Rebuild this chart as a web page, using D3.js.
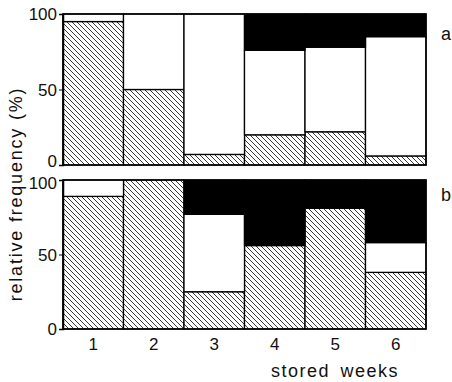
<!DOCTYPE html>
<html><head><meta charset="utf-8">
<script src="https://cdn.jsdelivr.net/npm/d3@7"></script>
<style>body{margin:0;background:#fff}svg{display:block}text{font-family:"Liberation Sans",sans-serif;fill:#111}</style>
</head><body>
<script>
const weeks = ["1","2","3","4","5","6"];
const yTicks = [0, 50, 100];
const panelLabels = ["a","b"];
const aHatched = [95, 50, 7, 20, 22, 6];
const aWhite   = [5, 50, 93, 56, 56, 79];
const aBlack   = [0, 0, 0, 24, 22, 15];
const bHatched = [89, 100, 25, 56, 81, 38];
const bWhite   = [11, 0, 52, 0, 0, 20];
const bBlack   = [0, 0, 23, 44, 19, 42];

const W = 452, H = 382;
const svg = d3.select("body").append("svg").attr("width", W).attr("height", H);
const defs = svg.append("defs");
const pat = defs.append("pattern").attr("id","hatch").attr("patternUnits","userSpaceOnUse")
  .attr("width",5).attr("height",5);
pat.append("rect").attr("width",5).attr("height",5).attr("fill","#fff");
pat.append("path").attr("d","M-1,-1 L6,6 M-1,4 L1,6 M4,-1 L6,1").attr("stroke","#222").attr("stroke-width",0.9);

const x = d3.scaleBand().domain(weeks).range([63, 426]).padding(0);
const panels = [
  {label: panelLabels[0], h: aHatched, w: aWhite, b: aBlack, y: d3.scaleLinear().domain([0,100]).range([165,14]), ly: 40, shift: {0: -4, 50: 0, 100: 0}},
  {label: panelLabels[1], h: bHatched, w: bWhite, b: bBlack, y: d3.scaleLinear().domain([0,100]).range([329,180]), ly: 201, shift: {0: 0, 50: 0, 100: 3}}
];

panels.forEach(p => {
  const g = svg.append("g");
  const stackData = weeks.map((wk,i) => ({week: wk, hatched: p.h[i], white: p.w[i], black: p.b[i]}));
  const series = d3.stack().keys(["hatched","white","black"])(stackData);
  const fills = {hatched: "url(#hatch)", white: "#fff", black: "#000"};
  series.forEach(s => {
    g.selectAll(null).data(s.filter(d => d[1] - d[0] > 0)).join("rect")
      .attr("x", d => x(d.data.week))
      .attr("width", x.bandwidth())
      .attr("y", d => p.y(d[1]))
      .attr("height", d => p.y(d[0]) - p.y(d[1]))
      .attr("fill", fills[s.key])
      .attr("stroke", "#000").attr("stroke-width", 1.3);
  });
  g.append("rect").attr("x", x.range()[0]).attr("y", p.y(100))
    .attr("width", x.range()[1]-x.range()[0]).attr("height", p.y(0)-p.y(100))
    .attr("fill","none").attr("stroke","#000").attr("stroke-width",1.5);
  const ax = d3.axisLeft(p.y).tickValues(yTicks).tickSize(4).tickPadding(2);
  const ag = g.append("g").attr("transform", `translate(${x.range()[0]},0)`).call(ax);
  ag.select(".domain").attr("stroke","#000").attr("stroke-width",1.5);
  ag.selectAll("text").attr("font-size",17).attr("dy","0.35em")
    .attr("y", d => p.shift[d])
    .style("font-family","Liberation Sans, sans-serif").attr("fill","#111");
  g.append("text").attr("x", 441).attr("y", p.ly).attr("font-size",18).text(p.label);
});

const xa = d3.axisBottom(x).tickSize(0).tickPadding(9);
const xg = svg.append("g").attr("transform","translate(0,329)").call(xa);
xg.select(".domain").remove();
xg.selectAll("text").attr("font-size",17).style("font-family","Liberation Sans, sans-serif").attr("fill","#111");

svg.append("text").attr("x", 335).attr("y", 377).attr("text-anchor","middle")
  .attr("font-size",18).attr("letter-spacing",1.5).attr("word-spacing",4).text("stored weeks");
svg.append("text").attr("transform","translate(22,194) rotate(-90)").attr("text-anchor","middle")
  .attr("font-size",18).attr("letter-spacing",1.8).text("relative frequency (%)");
</script>
</body></html>
